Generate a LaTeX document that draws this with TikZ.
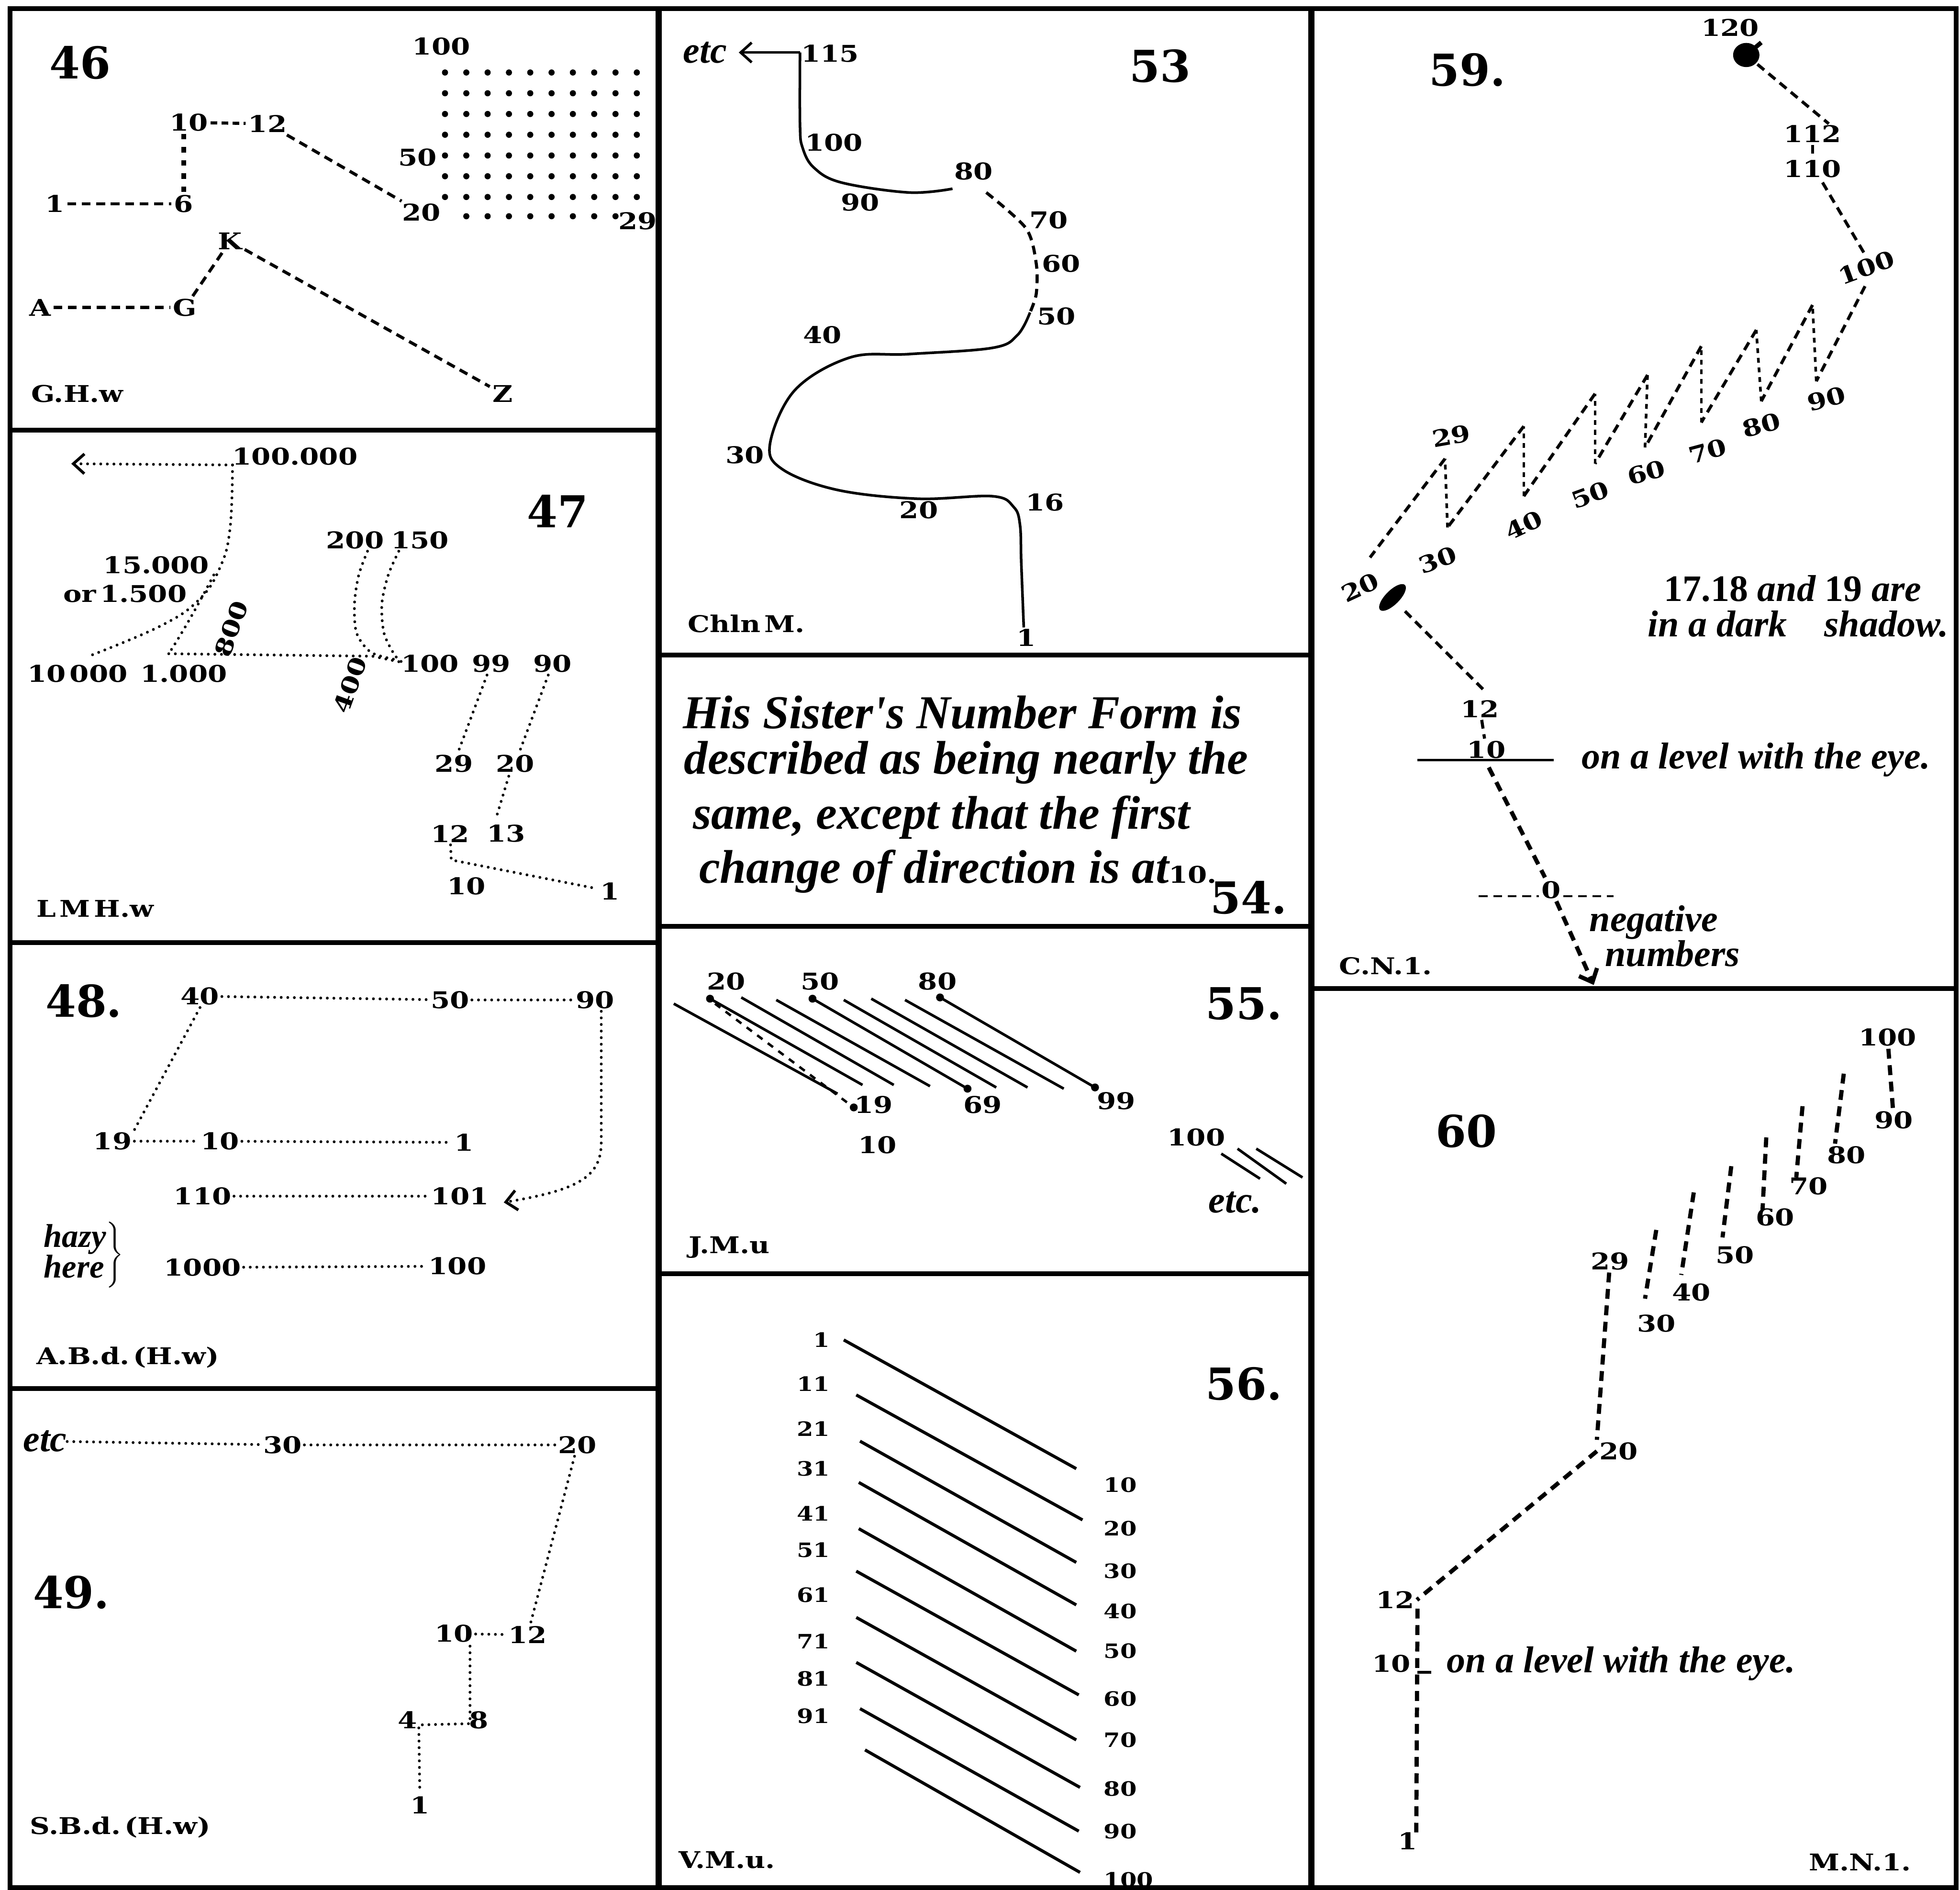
\documentclass[tikz,border=0pt]{standalone}
\usepackage{fontspec}
\setmainfont{DejaVu Serif}
\newfontfamily\labfont[FakeStretch=1.2]{DejaVu Serif}
\newfontfamily\handfont{Liberation Serif}
\usetikzlibrary{arrows.meta, positioning}

\tikzset{
  % panel borders
  frame/.style={line width=2.2pt},
  colframe/.style={line width=2.8pt},
  % number labels
  lab/.style={font=\labfont\bfseries\fontsize{10.5}{12}\selectfont, inner sep=1pt},
  slab/.style={font=\labfont\bfseries\fontsize{9}{11}\selectfont, inner sep=1pt},
  panelnum/.style={font=\bfseries\fontsize{20}{24}\selectfont, inner sep=0pt},
  % hand lettering
  hand/.style={font=\handfont\bfseries\itshape\fontsize{17}{20}\selectfont, inner sep=0pt},
  handbig/.style={font=\handfont\bfseries\itshape\fontsize{21.5}{24}\selectfont, inner sep=0pt, anchor=west},
  % connectors
  dotline/.style={line width=1.3pt, line cap=round, dash pattern=on 0pt off 3pt},
  dashline/.style={line width=1.4pt, dash pattern=on 4pt off 2.6pt},
  fineline/.style={line width=1.2pt, dash pattern=on 2.2pt off 2.2pt},
  boldash/.style={line width=1.9pt, dash pattern=on 4.5pt off 3pt},
  solidline/.style={line width=1.2pt},
  barb/.style={-{Straight Barb[length=5pt,width=9pt]}},
  blob/.style={circle, fill, inner sep=0pt, minimum size=3.6pt},
}

\begin{document}
\begin{tikzpicture}[x=0.02cm, y=-0.02cm]
  \useasboundingbox (0,0) rectangle (1568,1512);

  %% Frames
  \draw[frame] (8,7) rectangle (1565,1510);
  \draw[colframe] (527,7) -- (527,1510);
  \draw[colframe] (1049,7) -- (1049,1510);
  \draw[frame] (8,344) -- (527,344);
  \draw[frame] (8,754) -- (527,754);
  \draw[frame] (8,1111) -- (527,1111);
  \draw[frame] (527,524) -- (1049,524);
  \draw[frame] (527,741) -- (1049,741);
  \draw[frame] (527,1019) -- (1049,1019);
  \draw[frame] (1049,791) -- (1565,791);

  %% 46
  \node[panelnum] (n46) at (64,50) {46};
  \node[lab] (a100) at (353,37) {100};
  \node[lab] (a50) at (334,126) {50};
  \node[lab] (a20) at (337,170) {20};
  \node[lab] (a29) at (510,177) {29};
  \foreach \i in {0,...,6}
    \foreach \j in {0,...,9}
      \fill ({356+17.05*\j},{58+16.6*\i}) circle[radius=1.4pt];
  \foreach \j in {1,...,8}
    \fill ({356+17.05*\j},173) circle[radius=1.4pt];
  \node[lab] (a1) at (44,163) {1};
  \node[lab] (a6) at (147,163) {6};
  \node[lab] (a10) at (151,98) {10};
  \node[lab] (a12) at (214,99) {12};
  \draw[dashline] (a1) -- (a6);
  \draw[line width=2.2pt, dash pattern=on 2.5pt off 3.5pt] (a10.south -| a6.north) -- (a6.north);
  \draw[dashline, dash pattern=on 3pt off 2pt] (a10) -- (a12);
  \draw[dashline] (a12) -- (a20);
  \node[lab] (bA) at (32,246) {A};
  \node[lab] (bG) at (148,246) {G};
  \node[lab] (bK) at (184,193) {K};
  \node[lab] (bZ) at (402,315) {Z};
  \draw[dashline] (bA) -- (bG);
  \draw[dashline] (bG) -- (bK);
  \draw[dashline] (bK) -- (bZ);
  \node[lab, anchor=west] (t46) at (23,315) {G.H.w};

  %% 47
  \node[panelnum] (n47) at (446,409) {47};
  \node[lab] (c100k) at (236,365) {100.000};
  \coordinate (c47a) at (186,372);
  \coordinate (c47tip) at (57,371);
  \draw[dotline, barb] (c47a) -- (c47tip);
  \node[lab] (c15k) at (125,452) {15.000};
  \node[lab] (c1500) at (100,475) {or\,1.500};
  \node[lab] (c10k) at (62,539) {10\,000};
  \node[lab] (c1k) at (147,539) {1.000};
  \coordinate (c47b) at (71,525);
  \coordinate (c47c) at (171,460);
  \coordinate (c47d) at (135,523);
  \coordinate (c47e) at (318,528);
  \coordinate (c47f) at (322,530);
  \coordinate (c47g) at (294,441);
  \coordinate (c47h) at (319,441);
  \draw[dotline] plot[smooth, tension=0.7] coordinates {(c47a) (184,423) (176,454) (159,480) (128,501) (c47b)};
  \draw[dotline] (c47c) .. controls (158,485) and (146,506) .. (c47d);
  \draw[dotline] (c47d) -- (298,525) -- (c47f);
  \node[lab, rotate=70] (c800) at (185,503) {800};
  \node[lab, rotate=70] (c400) at (280,548) {400};
  \node[lab] (c200) at (284,432) {200};
  \node[lab] (c150) at (336,432) {150};
  \draw[dotline] plot[smooth] coordinates {(c47g) (287,460) (283.6,483) (285.3,506.5) (297,522) (c47e)};
  \draw[dotline] plot[smooth] coordinates {(c47h) (310.6,460) (305.5,483) (307.2,506.5) (315.7,524) (c47f)};
  \node[lab] (c100) at (344,531) {100};
  \node[lab] (c99) at (393,531) {99};
  \node[lab] (c90) at (442,531) {90};
  \node[lab] (c29) at (363,611) {29};
  \node[lab] (c20) at (412,611) {20};
  \node[lab] (c12) at (360,667) {12};
  \node[lab] (c13) at (405,667) {13};
  \node[lab] (c10) at (373,709) {10};
  \node[lab] (c1) at (488,713) {1};
  \draw[dotline] (c99) -- (c29);
  \draw[dotline] (c90) -- (c20);
  \coordinate (c47i) at (407,621);
  \coordinate (c47j) at (397,654);
  \draw[dotline] (c47i) -- (c47j);
  \coordinate (c47k) at (361,688);
  \draw[dotline] (c12) -- (c47k) -- (c1);
  \node[lab, anchor=west] (t47) at (27,727) {L\,M\,H.w};

  %% 48
  \node[panelnum] (n48) at (67,801) {48.};
  \node[lab] (d40) at (160,797) {40};
  \node[lab] (d50) at (360,800) {50};
  \node[lab] (d90) at (476,800) {90};
  \node[lab] (d19) at (90,913) {19};
  \node[lab] (d10) at (176,913) {10};
  \node[lab] (d1) at (371,914) {1};
  \node[lab] (d110) at (162,957) {110};
  \node[lab] (d101) at (368,957) {101};
  \node[lab] (d1000) at (162,1014) {1000};
  \node[lab] (d100) at (366,1013) {100};
  \draw[dotline] (d40) -- (d50);
  \draw[dotline] (d50) -- (d90);
  \draw[dotline] (d40.south) -- (d19.north east);
  \draw[dotline] (d19) -- (d10);
  \draw[dotline] (d10) -- (d1);
  \draw[dotline] (d110) -- (d101);
  \draw[dotline] (d1000) -- (d100);
  \coordinate (d48a) at (481,914);
  \coordinate (d48tip) at (403,962);
  \draw[dotline, barb] (d48a |- d90.south) -- (d48a) .. controls (481,942) and (462,952) .. (d48tip);
  \node[font=\handfont\bfseries\itshape\fontsize{15}{12}\selectfont, inner sep=0pt] (dhazy) at (66,1004)
    {$\left.\begin{tabular}{@{}l@{}}hazy\\here\end{tabular}\right\}$};
  \node[lab, anchor=west] (t48) at (27,1086) {A.B.d.\,(H.w)};

  %% 49
  \node[panelnum] (n49) at (57,1274) {49.};
  \node[hand] (eetc) at (36,1153) {etc};
  \node[lab] (e30) at (226,1156) {30};
  \node[lab] (e20) at (462,1156) {20};
  \node[lab] (e10) at (363,1307) {10};
  \node[lab] (e12) at (422,1308) {12};
  \node[lab] (e4) at (326,1376) {4};
  \node[lab] (e8) at (383,1376) {8};
  \node[lab] (e1) at (336,1444) {1};
  \draw[dotline] (eetc) -- (e30);
  \draw[dotline] (e30) -- (e20);
  \draw[dotline] (e20) -- (e12);
  \draw[dotline] (e10) -- (e12);
  \coordinate (e49a) at (376,1317);
  \coordinate (e49b) at (376,1379);
  \coordinate (e49c) at (335,1380);
  \draw[dotline] (e49a) -- (e49b) -- (e49c) -- (e1);
  \node[lab, anchor=west] (t49) at (22,1462) {S.B.d.\,(H.w)};

  %% 53
  \node[panelnum] (n53) at (928,53) {53};
  \node[hand] (fetc) at (564,42) {etc};
  \node[lab] (f115) at (664,43) {115};
  \coordinate (f53a) at (640,42);
  \coordinate (f53tip) at (591,42);
  \coordinate (f53c) at (762,151);
  \coordinate (f53d) at (789,154);
  \coordinate (f53e) at (824,250);
  \coordinate (f53f) at (819,502);
  \draw[solidline, barb] (f53a) -- (f53tip);
  \draw[solidline] plot[smooth, tension=0.6] coordinates {(f53a) (640,100) (642,118) (651,134) (673,146) (727,154) (f53c)};
  \draw[dashline] plot[smooth] coordinates {(f53d) (820.8,182.7) (829,211) (829,235) (f53e)};
  \draw[solidline] plot[smooth, tension=0.6] coordinates {(f53e) (814,268) (794,278.3) (727,283.3) (680,286) (636,312) (616,355) (626,375.5) (670,392) (734,399) (794,397) (811,405.7) (816,420) (817,450) (f53f)};
  \node[lab] (f100) at (667,114) {100};
  \node[lab] (f90) at (688,162) {90};
  \node[lab] (f80) at (779,137) {80};
  \node[lab] (f70) at (839,176) {70};
  \node[lab] (f60) at (849,211) {60};
  \node[lab] (f50) at (845,253) {50};
  \node[lab] (f40) at (658,268) {40};
  \node[lab] (f30) at (596,364) {30};
  \node[lab] (f20) at (735,408) {20};
  \node[lab] (f16) at (836,402) {16};
  \node[lab] (f1) at (821,510) {1};
  \node[lab, anchor=west] (t53) at (548,499) {Chln\,M.};

  %% 54
  \node[handbig] (s1) at (546,570) {His Sister's Number Form is};
  \node[handbig] (s2) at (547,610) {described as being nearly the};
  \node[handbig] (s3) at (554,654) {same, except that the first};
  \node[handbig] (s4) at (559,697) {change of direction is at{\upshape\labfont\fontsize{10.5}{13}\selectfont 10.}};
  \node[panelnum] (n54) at (999,718) {54.};

  %% 55
  \node[panelnum] (n55) at (995,803) {55.};
  \node[lab] (g20) at (581,785) {20};
  \node[lab] (g50) at (656,785) {50};
  \node[lab] (g80) at (750,785) {80};
  \foreach \n/\sx/\sy/\ex/\ey in {a/539/803/670/875, b/568/799/690/868, d/593/798/715/868,
      e/621/800/744/869, f/650/799/774/871, g/675/800/797/870, h/697/799/822/870,
      i/724/800/851/871, j/752/798/876/870} {
    \coordinate (gs\n) at (\sx,\sy);
    \coordinate (ge\n) at (\ex,\ey);
    \draw[solidline] (gs\n) -- (ge\n);
  }
  \coordinate (gsc) at (572,803);
  \node[blob] (gd19) at (683,886) {};
  \draw[dashline, line width=1.1pt, dash pattern=on 3pt off 3pt] (gsc) -- (gd19);
  \node[blob] (gd20) at (gsb) {};
  \node[blob] (gd50) at (gsf) {};
  \node[blob] (gd69) at (gef) {};
  \node[blob] (gd80) at (gsj) {};
  \node[blob] (gd99) at (gej) {};
  \node[lab] (g19) at (699,884) {19};
  \node[lab] (g69) at (786,884) {69};
  \node[lab] (g99) at (893,881) {99};
  \node[lab] (g10) at (702,916) {10};
  \node[lab] (g100) at (957,910) {100};
  \foreach \n/\sx/\sy/\ex/\ey in {x/977/923/1008/943, y/990/919/1029/947, z/1005/919/1042/942} {
    \coordinate (gs\n) at (\sx,\sy);
    \coordinate (ge\n) at (\ex,\ey);
    \draw[solidline] (gs\n) -- (ge\n);
  }
  \node[hand] (getc) at (988,962) {etc.};
  \node[lab, anchor=west] (t55) at (549,998) {J.M.u};

  %% 56
  \node[panelnum] (n56) at (995,1107) {56.};
  \foreach \n/\sx/\sy/\ex/\ey in {1/675/1072/861/1175, 2/685/1116/866/1216,
      3/688/1153/861/1250, 4/687/1186/861/1284, 5/687/1223/861/1321,
      6/685/1257/863/1356, 7/685/1294/861/1392, 8/685/1330/864/1430,
      9/688/1367/863/1465, 10/692/1400/864/1498} {
    \coordinate (vs\n) at (\sx,\sy);
    \coordinate (ve\n) at (\ex,\ey);
    \draw[solidline, line width=1.4pt] (vs\n) -- (ve\n);
  }
  \foreach \n/\t/\ly in {1/1/1072, 2/11/1107, 3/21/1143, 4/31/1175, 5/41/1211, 6/51/1240,
      7/61/1276, 8/71/1313, 9/81/1343, 10/91/1373}
    \node[slab, anchor=east] (vl\n) at (666,\ly) {\t};
  \foreach \n/\t/\ry in {1/10/1188, 2/20/1223, 3/30/1257, 4/40/1289, 5/50/1321,
      6/60/1359, 7/70/1392, 8/80/1431, 9/90/1465, 10/100/1504}
    \node[slab, anchor=west] (vr\n) at (881,\ry) {\t};
  \node[lab, anchor=west] (t56) at (541,1488) {V.M.u.};

  %% 59
  \node[panelnum] (n59) at (1174,56) {59.};
  \node[lab] (h120) at (1384,22) {120};
  \coordinate (h120m) at (1397,44);
  \fill (h120m) ellipse[x radius=6pt, y radius=5.5pt];
  \draw[line width=2pt] (h120m) -- ([shift={(12,-10)}]h120m);
  \coordinate (h112a) at (1463,99);
  \draw[dashline] (h120m) -- (h112a);
  \node[lab] (h112) at (1450,107) {112};
  \node[lab] (h110) at (1450,135) {110};
  \draw[dashline] (h112) -- (h110);
  \coordinate (h110a) at (1458,146);
  \coordinate (h100a) at (1491,202);
  \draw[dashline] (h110a) -- (h100a);
  \node[lab, rotate=20] (h100) at (1493,214) {100};
  \coordinate (zb90) at (1453,305);
  \coordinate (zt90) at (1450,244);
  \coordinate (zb80) at (1409,321);
  \coordinate (zt80) at (1405,264);
  \coordinate (zb70) at (1361,338);
  \coordinate (zt70) at (1361,277);
  \coordinate (zb60) at (1316,358);
  \coordinate (zt60) at (1318,300);
  \coordinate (zb50) at (1276,371);
  \coordinate (zt50) at (1276,315);
  \coordinate (zb40) at (1219,397);
  \coordinate (zt40) at (1219,341);
  \coordinate (zb30) at (1158,422);
  \coordinate (zt30) at (1156,367);
  \coordinate (zb20) at (1096,446);
  \coordinate (h100b) at (1492,229);
  \draw[dashline] (h100b) -- (zb90);
  \foreach \a/\b in {90/80, 80/70, 70/60, 60/50, 50/40, 40/30, 30/20}
    \draw[dashline] (zt\a) -- (zb\b);
  \foreach \a in {90, 80, 70, 60, 50, 40, 30}
    \draw[fineline] (zb\a) -- (zt\a);
  \node[lab, rotate=15] (h90) at (1461,319) {90};
  \node[lab, rotate=15] (h80) at (1409,340) {80};
  \node[lab, rotate=15] (h70) at (1366,361) {70};
  \node[lab, rotate=15] (h60) at (1317,378) {60};
  \node[lab, rotate=20] (h50) at (1272,396) {50};
  \node[lab, rotate=25] (h40) at (1219,420) {40};
  \node[lab, rotate=20] (h30) at (1150,448) {30};
  \node[lab, rotate=10] (h29) at (1161,349) {29};
  \node[lab, rotate=25] (h20) at (1088,470) {20};
  \coordinate (h20m) at (1114,478);
  \fill[rotate around={45:(h20m)}] (h20m) ellipse[x radius=8pt, y radius=3.2pt];
  \coordinate (h59b) at (1124,489);
  \coordinate (h59c) at (1189,554);
  \draw[dashline] (h59b) -- (h59c);
  \node[lab] (h12) at (1184,567) {12};
  \node[lab] (h10) at (1189,600) {10};
  \draw[dashline] (h12) -- (h10);
  \coordinate (h59l) at (1134,608);
  \coordinate (h59r) at (1243,608);
  \draw[line width=1pt] (h59l) -- (h59r);
  \node[hand, anchor=west] (heye) at (1265,608) {on a level with the eye.};
  \node[lab] (h0) at (1241,712) {0};
  \coordinate (h59d) at (1191,614);
  \coordinate (h59e) at (1236,702);
  \draw[boldash] (h59d) -- (h59e);
  \coordinate (h0l) at (1183,717);
  \coordinate (h0r) at (1291,717);
  \draw[dashline, line width=1pt] (h0l) -- (h0.west |- h0l);
  \draw[dashline, line width=1pt] (h0.east |- h0r) -- (h0r);
  \coordinate (h59tip) at (1275,788);
  \draw[boldash, barb] (h0) -- (h59tip);
  \node[hand] (hneg) at (1323,738) {negative};
  \node[hand] (hnum) at (1338,763) {numbers};
  \node[hand, anchor=west] (hsh1) at (1331,471) {{\upshape 17.18} and {\upshape 19} are};
  \node[hand, anchor=west] (hsh2) at (1318,499) {in a dark\quad shadow.};
  \node[lab, anchor=west] (t59) at (1069,773) {C.N.1.};

  %% 60
  \node[panelnum] (n60) at (1173,905) {60};
  \node[lab] (i100) at (1510,830) {100};
  \node[lab] (i90) at (1515,896) {90};
  \draw[boldash] (i100) -- (i90);
  \foreach \n/\ax/\ay/\bx/\by/\lx/\ly in {80/1475/859/1468/915/1477/924, 70/1442/885/1437/942/1447/949,
      60/1413/910/1410/968/1420/974, 50/1385/933/1378/990/1388/1004,
      40/1355/954/1345/1020/1353/1034, 30/1325/984/1316/1039/1325/1059} {
    \node[lab] (i\n) at (\lx,\ly) {\n};
    \coordinate (it\n) at (\ax,\ay);
    \coordinate (ib\n) at (\bx,\by);
    \draw[boldash] (it\n) -- (ib\n);
  }
  \node[lab] (i29) at (1288,1009) {29};
  \node[lab] (i20) at (1295,1161) {20};
  \node[lab] (i12) at (1116,1280) {12};
  \node[lab] (i10) at (1113,1331) {10};
  \node[lab] (i1) at (1126,1473) {1};
  \draw[boldash] (i29) -- (i20.north west);
  \draw[boldash] (i20.west) -- (i12.east);
  \coordinate (i60a) at (1134,1287);
  \coordinate (i60b) at (1133,1466);
  \draw[boldash] (i60a) -- (i60b);
  \coordinate (i60c) at (1134,1338);
  \coordinate (i60d) at (1145,1338);
  \draw[line width=1.2pt] (i60c) -- (i60d);
  \node[hand, anchor=west] (ieye) at (1157,1331) {on a level with the eye.};
  \node[lab] (t60) at (1488,1490) {M.N.1.};
\end{tikzpicture}
\end{document}
